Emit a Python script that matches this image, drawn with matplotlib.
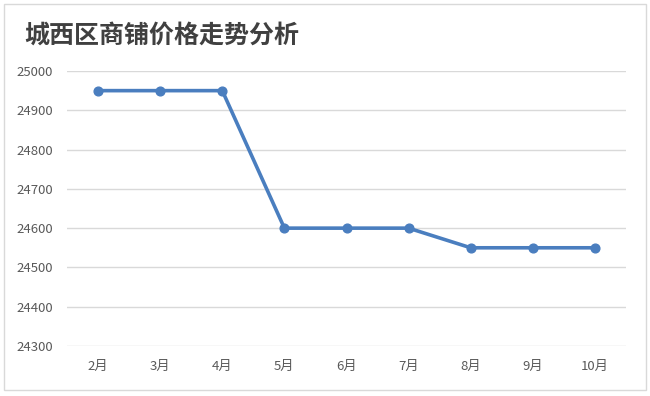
import matplotlib
matplotlib.use("Agg")
import matplotlib.pyplot as plt
from matplotlib.patches import Rectangle

plt.rcParams['font.family'] = ['Noto Sans CJK SC', 'DejaVu Sans']

months = ["2月", "3月", "4月", "5月", "6月", "7月", "8月", "9月", "10月"]
prices = [24950, 24950, 24950, 24600, 24600, 24600, 24550, 24550, 24550]
yticks = [24300, 24400, 24500, 24600, 24700, 24800, 24900, 25000]
title = "城西区商铺价格走势分析"

W, H = 650, 396
fig = plt.figure(figsize=(W / 100, H / 100), dpi=100)
fig.patch.set_facecolor("white")
fig.add_artist(Rectangle((3.5 / W, 6.5 / H), (W - 8) / W, (H - 10) / H,
                         transform=fig.transFigure, fill=False,
                         edgecolor="#d9d9d9", linewidth=1))

ax = fig.add_axes([67 / W, 1 - 346 / H, (626 - 67) / W, (346 - 71) / H])
x = list(range(len(months)))
ax.plot(x, prices, color="#4A7EBF", linewidth=2.6, marker="o",
        markersize=6.3, zorder=3)
ax.set_xlim(-0.5, len(months) - 0.5)
ax.set_ylim(yticks[0], yticks[-1])
ax.set_yticks(yticks)
ax.set_yticklabels([str(v) for v in yticks])
ax.set_xticks(x)
ax.set_xticklabels(months)
ax.grid(axis="y", color="#d9d9d9", linewidth=1)
ax.set_axisbelow(True)
for s in ax.spines.values():
    s.set_visible(False)
ax.tick_params(axis="both", length=0, labelsize=9.5, colors="#595959")
ax.tick_params(axis="x", pad=10)
ax.tick_params(axis="y", pad=10)

fig.text(24 / W, 1 - 36 / H, title, fontsize=18, fontweight="bold",
         color="#404040", va="center", ha="left")

fig.savefig("out.png", dpi=100)
